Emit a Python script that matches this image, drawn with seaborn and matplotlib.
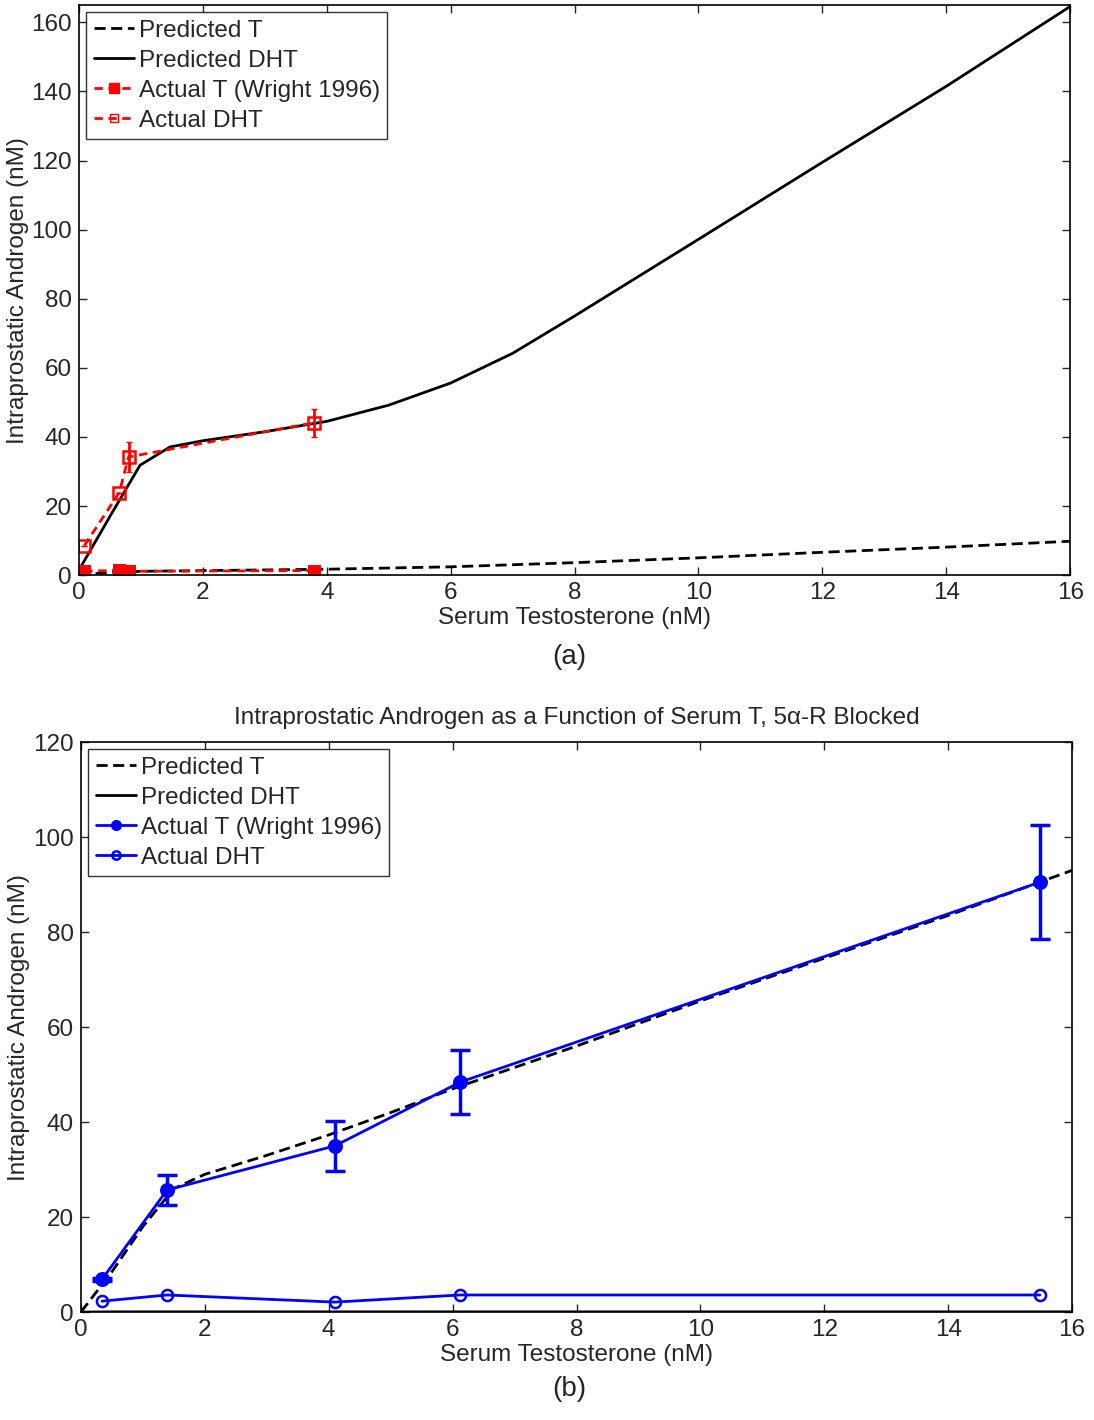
import numpy as np
import pandas as pd
import matplotlib
matplotlib.use("Agg")
import matplotlib.pyplot as plt
import seaborn as sns
from matplotlib.lines import Line2D

sns.set_style("ticks")
plt.rcParams['font.family'] = ['Liberation Sans', 'DejaVu Sans']

# ---------------- Panel (a) data ----------------
a_pred_x = [0, 0.03, 0.5, 0.985, 1.47, 2.0, 3.0, 4.0, 5.0, 6.0, 7.0, 8.0, 10.0, 12.0, 14.0, 16.0]
a_pred_dht = [0, 2.4, 17.0, 31.8, 37.1, 38.9, 41.5, 44.5, 49.2, 55.6, 64.2, 75.0, 97.2, 119.5, 141.5, 164.6]
a_predT_x = [0, 0.5, 1, 2, 4, 6, 8, 10, 12, 14, 16]
a_pred_t = [0, 0.8, 1.1, 1.3, 1.7, 2.4, 3.6, 5.0, 6.6, 8.1, 9.8]
a_act_x = [0.085, 0.65, 0.80, 3.79]
a_act_t = [1.1, 1.4, 1.1, 1.3]
a_act_dht = [8.5, 23.9, 34.2, 44.1]
a_act_dht_err = [0, 0, 4.3, 4.0]

# ---------------- Panel (b) data ----------------
b_pred_x = [0, 0.5, 1.0, 1.5, 2.0, 3.0, 4.0, 5.0, 6.0, 8.0, 10.0, 12.0, 14.0, 16.0]
b_pred_t = [0, 8.5, 18.0, 26.0, 29.0, 33.0, 37.3, 42.0, 47.0, 56.0, 65.5, 74.5, 83.5, 93.0]
b_pred_dht = [0, 0.05, 0.05, 0.05, 0.05, 0.05, 0.05, 0.05, 0.05, 0.05, 0.05, 0.05, 0.05, 0.05]
b_act_x = [0.34, 1.39, 4.10, 6.12, 15.48]
b_act_t = [6.9, 25.7, 35.0, 48.4, 90.5]
b_act_t_err = [0.3, 3.1, 5.2, 6.7, 12.0]
b_act_dht = [2.3, 3.6, 2.1, 3.6, 3.6]

RED = '#ff0000'
BLUE = '#0000ff'
FS = 17.5

fig = plt.figure(figsize=(10.94, 14.2), dpi=100)
ax1 = fig.add_axes([0.0722, 0.595, 0.906, 0.4014])
ax2 = fig.add_axes([0.074, 0.076, 0.906, 0.4014])

def style_axes(ax, ylim, yticks):
    ax.set_xlim(0, 16)
    ax.set_ylim(*ylim)
    ax.set_xticks(range(0, 17, 2))
    ax.set_yticks(yticks)
    ax.tick_params(direction='in', top=True, right=True, labelsize=FS, length=6, width=1, pad=5)
    for s in ax.spines.values():
        s.set_linewidth(1.2)
        s.set_color('black')

# ---------- Panel (a) ----------
sns.lineplot(x=a_predT_x, y=a_pred_t, ax=ax1, color='black', lw=2, linestyle=(0, (4, 2)))
sns.lineplot(x=a_pred_x, y=a_pred_dht, ax=ax1, color='black', lw=2)
ax1.errorbar(a_act_x, a_act_dht, yerr=a_act_dht_err, fmt='none', ecolor=RED, elinewidth=2,
             capsize=2, linestyle='--')
sns.lineplot(x=a_act_x, y=a_act_dht, ax=ax1, color=RED, lw=2, linestyle=(0, (3, 2)),
             marker='s', markersize=8, markerfacecolor='none', markeredgecolor=RED, markeredgewidth=1.8)
sns.lineplot(x=a_act_x, y=a_act_t, ax=ax1, color=RED, lw=2, linestyle=(0, (3, 2)),
             marker='s', markersize=9, markerfacecolor=RED, markeredgecolor=RED)
style_axes(ax1, (0, 165), range(0, 161, 20))
ax1.set_xlabel('Serum Testosterone (nM)', fontsize=FS, labelpad=2)
ax1.set_ylabel('Intraprostatic Androgen (nM)', fontsize=FS, labelpad=2)
fig.text(0.52, 0.537, '(a)', ha='center', va='center', fontsize=20)

labels = ['Predicted T', 'Predicted DHT', 'Actual T (Wright 1996)', 'Actual DHT']
h_a = [Line2D([], [], color='black', lw=2, linestyle=(0, (4, 2))),
       Line2D([], [], color='black', lw=2),
       Line2D([], [], color=RED, lw=2, linestyle=(0, (3, 2)), marker='s', markersize=7,
              markerfacecolor=RED, markeredgecolor=RED),
       Line2D([], [], color=RED, lw=2, linestyle=(0, (3, 2)), marker='s', markersize=6,
              markerfacecolor='none', markeredgecolor=RED)]
leg = ax1.legend(h_a, labels,
                 loc='upper left', fontsize=FS, frameon=True, fancybox=False, handlelength=1.65,
                 handletextpad=0.2, borderpad=0.3, labelspacing=0.33, borderaxespad=0.3)
leg.get_frame().set_edgecolor('black')
leg.get_frame().set_linewidth(1)

# ---------- Panel (b) ----------
sns.lineplot(x=b_pred_x, y=b_pred_dht, ax=ax2, color='black', lw=2)
sns.lineplot(x=b_pred_x, y=b_pred_t, ax=ax2, color='black', lw=2, linestyle=(0, (4, 2)))
ax2.errorbar(b_act_x, b_act_t, yerr=b_act_t_err, fmt='none', ecolor=BLUE, elinewidth=2.5,
             capsize=7, capthick=2.5)
sns.lineplot(x=b_act_x, y=b_act_t, ax=ax2, color=BLUE, lw=2, marker='o', markersize=10,
             markerfacecolor=BLUE, markeredgecolor=BLUE)
sns.lineplot(x=b_act_x, y=b_act_dht, ax=ax2, color=BLUE, lw=2, marker='o', markersize=8,
             markerfacecolor='none', markeredgecolor=BLUE, markeredgewidth=1.8)
style_axes(ax2, (0, 120), range(0, 121, 20))
ax2.set_xlabel('Serum Testosterone (nM)', fontsize=FS, labelpad=2)
ax2.set_ylabel('Intraprostatic Androgen (nM)', fontsize=FS, labelpad=2)
ax2.set_title('Intraprostatic Androgen as a Function of Serum T, 5\u03b1-R Blocked',
              fontsize=FS, pad=13)
fig.text(0.52, 0.0215, '(b)', ha='center', va='center', fontsize=20)

h_b = [Line2D([], [], color='black', lw=2, linestyle=(0, (4, 2))),
       Line2D([], [], color='black', lw=2),
       Line2D([], [], color=BLUE, lw=2, marker='o', markersize=7,
              markerfacecolor=BLUE, markeredgecolor=BLUE),
       Line2D([], [], color=BLUE, lw=2, marker='o', markersize=6,
              markerfacecolor='none', markeredgecolor=BLUE, markeredgewidth=1.8)]
leg2 = ax2.legend(h_b, labels,
                  loc='upper left', fontsize=FS, frameon=True, fancybox=False, handlelength=1.65,
                  handletextpad=0.2, borderpad=0.3, labelspacing=0.33, borderaxespad=0.3)
leg2.get_frame().set_edgecolor('black')
leg2.get_frame().set_linewidth(1)

fig.savefig('out.png', dpi=100, facecolor='white')
